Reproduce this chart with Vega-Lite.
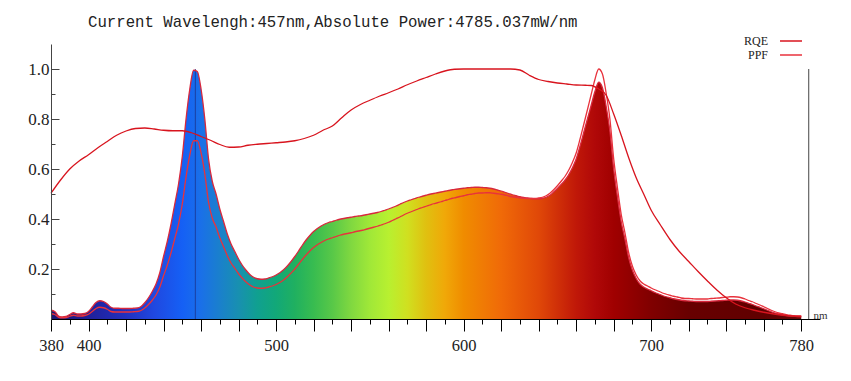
{
"$schema":"https://vega.github.io/schema/vega-lite/v6.json",
"width":769,"height":275,
"autosize":{"type":"none"},
"padding":{"left":51,"top":44,"right":31,"bottom":62},
"background":"white",
"title":{"text":"Current Wavelengh:457nm,Absolute Power:4785.037mW/nm","anchor":"start","frame":"group","dx":37,"dy":27,"offset":17,"baseline":"alphabetic","font":"Liberation Mono","fontSize":15.7,"fontWeight":"normal","color":"#222222"},
"config":{"view":{"stroke":null},"axis":{"grid":false}},
"datasets":{
"spec":[
{"w":380,"s":0.035,"p":0.021},{"w":382,"s":0.03,"p":0.018},{"w":384,"s":0.012,"p":0.007},{"w":386,"s":0.008,"p":0.005},{"w":388,"s":0.01,"p":0.006},{"w":390,"s":0.018,"p":0.011},{"w":392,"s":0.025,"p":0.015},{"w":394,"s":0.02,"p":0.012},{"w":396,"s":0.02,"p":0.012},{"w":398,"s":0.022,"p":0.014},
{"w":400,"s":0.03,"p":0.019},{"w":402,"s":0.048,"p":0.03},{"w":404,"s":0.066,"p":0.042},{"w":406,"s":0.073,"p":0.047},{"w":408,"s":0.07,"p":0.045},{"w":410,"s":0.06,"p":0.039},{"w":412,"s":0.047,"p":0.03},{"w":414,"s":0.043,"p":0.028},{"w":416,"s":0.043,"p":0.028},{"w":418,"s":0.042,"p":0.028},
{"w":420,"s":0.042,"p":0.028},{"w":422,"s":0.042,"p":0.028},{"w":424,"s":0.043,"p":0.029},{"w":426,"s":0.044,"p":0.03},{"w":428,"s":0.05,"p":0.034},{"w":430,"s":0.065,"p":0.044},{"w":432,"s":0.085,"p":0.058},{"w":434,"s":0.11,"p":0.075},{"w":436,"s":0.14,"p":0.096},{"w":438,"s":0.185,"p":0.127},
{"w":440,"s":0.25,"p":0.173},{"w":442,"s":0.31,"p":0.215},{"w":444,"s":0.38,"p":0.265},{"w":446,"s":0.46,"p":0.322},{"w":448,"s":0.54,"p":0.38},{"w":450,"s":0.65,"p":0.46},{"w":452,"s":0.8,"p":0.568},{"w":454,"s":0.92,"p":0.656},{"w":456,"s":0.995,"p":0.713},{"w":458,"s":0.99,"p":0.713},
{"w":460,"s":0.92,"p":0.665},{"w":462,"s":0.8,"p":0.581},{"w":464,"s":0.64,"p":0.467},{"w":466,"s":0.55,"p":0.403},{"w":468,"s":0.5,"p":0.368},{"w":470,"s":0.44,"p":0.325},{"w":472,"s":0.39,"p":0.289},{"w":474,"s":0.34,"p":0.253},{"w":476,"s":0.3,"p":0.224},{"w":478,"s":0.27,"p":0.203},
{"w":480,"s":0.24,"p":0.181},{"w":482,"s":0.215,"p":0.163},{"w":484,"s":0.195,"p":0.148},{"w":486,"s":0.178,"p":0.136},{"w":488,"s":0.167,"p":0.128},{"w":490,"s":0.161,"p":0.124},{"w":492,"s":0.159,"p":0.123},{"w":494,"s":0.16,"p":0.124},{"w":496,"s":0.164,"p":0.128},{"w":498,"s":0.169,"p":0.132},
{"w":500,"s":0.176,"p":0.138},{"w":502,"s":0.185,"p":0.146},{"w":504,"s":0.197,"p":0.156},{"w":506,"s":0.212,"p":0.169},{"w":508,"s":0.23,"p":0.184},{"w":510,"s":0.25,"p":0.2},{"w":512,"s":0.272,"p":0.219},{"w":514,"s":0.295,"p":0.238},{"w":516,"s":0.316,"p":0.256},{"w":518,"s":0.334,"p":0.272},
{"w":520,"s":0.35,"p":0.286},{"w":522,"s":0.362,"p":0.297},{"w":524,"s":0.372,"p":0.306},{"w":526,"s":0.38,"p":0.314},{"w":528,"s":0.386,"p":0.32},{"w":530,"s":0.39,"p":0.325},{"w":532,"s":0.395,"p":0.33},{"w":534,"s":0.399,"p":0.335},{"w":536,"s":0.402,"p":0.339},{"w":538,"s":0.405,"p":0.342},
{"w":540,"s":0.407,"p":0.345},{"w":542,"s":0.41,"p":0.349},{"w":544,"s":0.412,"p":0.352},{"w":546,"s":0.414,"p":0.355},{"w":548,"s":0.417,"p":0.359},{"w":550,"s":0.42,"p":0.363},{"w":552,"s":0.423,"p":0.367},{"w":554,"s":0.426,"p":0.371},{"w":556,"s":0.43,"p":0.376},{"w":558,"s":0.435,"p":0.381},
{"w":560,"s":0.44,"p":0.387},{"w":562,"s":0.446,"p":0.394},{"w":564,"s":0.452,"p":0.401},{"w":566,"s":0.459,"p":0.408},{"w":568,"s":0.466,"p":0.416},{"w":570,"s":0.472,"p":0.423},{"w":572,"s":0.477,"p":0.429},{"w":574,"s":0.482,"p":0.435},{"w":576,"s":0.487,"p":0.441},{"w":578,"s":0.491,"p":0.446},
{"w":580,"s":0.495,"p":0.451},{"w":582,"s":0.499,"p":0.456},{"w":584,"s":0.502,"p":0.461},{"w":586,"s":0.505,"p":0.465},{"w":588,"s":0.508,"p":0.469},{"w":590,"s":0.511,"p":0.474},{"w":592,"s":0.514,"p":0.478},{"w":594,"s":0.517,"p":0.483},{"w":596,"s":0.519,"p":0.486},{"w":598,"s":0.521,"p":0.49},
{"w":600,"s":0.523,"p":0.493},{"w":602,"s":0.525,"p":0.497},{"w":604,"s":0.526,"p":0.499},{"w":606,"s":0.527,"p":0.502},{"w":608,"s":0.527,"p":0.504},{"w":610,"s":0.526,"p":0.504},{"w":612,"s":0.525,"p":0.505},{"w":614,"s":0.523,"p":0.505},{"w":616,"s":0.52,"p":0.503},{"w":618,"s":0.516,"p":0.501},
{"w":620,"s":0.512,"p":0.499},{"w":622,"s":0.507,"p":0.496},{"w":624,"s":0.502,"p":0.492},{"w":626,"s":0.497,"p":0.489},{"w":628,"s":0.493,"p":0.487},{"w":630,"s":0.489,"p":0.484},{"w":632,"s":0.486,"p":0.483},{"w":634,"s":0.484,"p":0.482},{"w":636,"s":0.482,"p":0.482},{"w":638,"s":0.481,"p":0.482},
{"w":640,"s":0.481,"p":0.484},{"w":642,"s":0.483,"p":0.487},{"w":644,"s":0.487,"p":0.493},{"w":646,"s":0.495,"p":0.503},{"w":648,"s":0.508,"p":0.517},{"w":650,"s":0.522,"p":0.533},{"w":652,"s":0.538,"p":0.551},{"w":654,"s":0.555,"p":0.57},{"w":656,"s":0.577,"p":0.595},{"w":658,"s":0.605,"p":0.626},
{"w":660,"s":0.64,"p":0.664},{"w":662,"s":0.69,"p":0.718},{"w":664,"s":0.745,"p":0.777},{"w":666,"s":0.8,"p":0.837},{"w":668,"s":0.855,"p":0.898},{"w":670,"s":0.91,"p":0.958},{"w":672,"s":0.947,"p":1.0},{"w":674,"s":0.925,"p":0.98},{"w":676,"s":0.85,"p":0.903},{"w":678,"s":0.75,"p":0.799},
{"w":680,"s":0.6,"p":0.641},{"w":682,"s":0.49,"p":0.525},{"w":684,"s":0.39,"p":0.419},{"w":686,"s":0.32,"p":0.345},{"w":688,"s":0.245,"p":0.265},{"w":690,"s":0.195,"p":0.211},{"w":692,"s":0.162,"p":0.176},{"w":694,"s":0.14,"p":0.153},{"w":696,"s":0.128,"p":0.14},{"w":698,"s":0.12,"p":0.132},
{"w":700,"s":0.113,"p":0.124},{"w":702,"s":0.106,"p":0.117},{"w":704,"s":0.1,"p":0.111},{"w":706,"s":0.094,"p":0.104},{"w":708,"s":0.089,"p":0.099},{"w":710,"s":0.085,"p":0.095},{"w":712,"s":0.081,"p":0.091},{"w":714,"s":0.078,"p":0.088},{"w":716,"s":0.075,"p":0.084},{"w":718,"s":0.073,"p":0.082},
{"w":720,"s":0.072,"p":0.082},{"w":722,"s":0.071,"p":0.081},{"w":724,"s":0.07,"p":0.08},{"w":726,"s":0.07,"p":0.08},{"w":728,"s":0.07,"p":0.08},{"w":730,"s":0.07,"p":0.08},{"w":732,"s":0.071,"p":0.082},{"w":734,"s":0.072,"p":0.083},{"w":736,"s":0.073,"p":0.084},{"w":738,"s":0.074,"p":0.086},
{"w":740,"s":0.075,"p":0.087},{"w":742,"s":0.076,"p":0.089},{"w":744,"s":0.076,"p":0.089},{"w":746,"s":0.075,"p":0.088},{"w":748,"s":0.072,"p":0.085},{"w":750,"s":0.068,"p":0.08},{"w":752,"s":0.063,"p":0.074},{"w":754,"s":0.058,"p":0.069},{"w":756,"s":0.052,"p":0.062},{"w":758,"s":0.047,"p":0.056},
{"w":760,"s":0.041,"p":0.049},{"w":762,"s":0.035,"p":0.042},{"w":764,"s":0.029,"p":0.035},{"w":766,"s":0.024,"p":0.029},{"w":768,"s":0.02,"p":0.024},{"w":770,"s":0.017,"p":0.021},{"w":772,"s":0.014,"p":0.017},{"w":774,"s":0.012,"p":0.015},{"w":776,"s":0.011,"p":0.013},{"w":778,"s":0.01,"p":0.012},{"w":780,"s":0.01,"p":0.012}
],
"rqe":[
{"w":380,"r":0.503},{"w":385,"r":0.555},{"w":390,"r":0.6},{"w":395,"r":0.632},{"w":400,"r":0.657},{"w":405,"r":0.685},{"w":410,"r":0.71},{"w":415,"r":0.735},{"w":420,"r":0.752},{"w":425,"r":0.762},{"w":430,"r":0.764},{"w":435,"r":0.76},{"w":440,"r":0.755},{"w":445,"r":0.753},{"w":450,"r":0.753},{"w":455,"r":0.745},{"w":460,"r":0.73},{"w":465,"r":0.715},{"w":470,"r":0.698},{"w":475,"r":0.687},{"w":480,"r":0.688},{"w":485,"r":0.695},{"w":490,"r":0.699},{"w":495,"r":0.702},{"w":500,"r":0.705},{"w":505,"r":0.708},{"w":510,"r":0.713},{"w":515,"r":0.722},{"w":520,"r":0.735},{"w":525,"r":0.755},{"w":530,"r":0.772},{"w":535,"r":0.805},{"w":540,"r":0.836},{"w":545,"r":0.858},{"w":550,"r":0.875},{"w":555,"r":0.891},{"w":560,"r":0.905},{"w":565,"r":0.92},{"w":570,"r":0.937},{"w":575,"r":0.952},{"w":580,"r":0.966},{"w":585,"r":0.98},{"w":590,"r":0.992},{"w":595,"r":0.999},{"w":600,"r":1.0},{"w":610,"r":1.0},{"w":620,"r":1.0},{"w":625,"r":1.0},{"w":630,"r":0.996},{"w":635,"r":0.975},{"w":640,"r":0.958},{"w":645,"r":0.95},{"w":650,"r":0.944},{"w":655,"r":0.94},{"w":660,"r":0.936},{"w":665,"r":0.935},{"w":668,"r":0.934},{"w":672,"r":0.92},{"w":676,"r":0.895},{"w":680,"r":0.82},{"w":684,"r":0.735},{"w":688,"r":0.645},{"w":692,"r":0.565},{"w":696,"r":0.5},{"w":700,"r":0.435},{"w":705,"r":0.375},{"w":710,"r":0.318},{"w":715,"r":0.27},{"w":720,"r":0.23},{"w":725,"r":0.19},{"w":730,"r":0.152},{"w":735,"r":0.116},{"w":740,"r":0.085},{"w":745,"r":0.06},{"w":750,"r":0.045},{"w":755,"r":0.035},{"w":760,"r":0.027},{"w":770,"r":0.015},{"w":780,"r":0.01}
],
"marker":[{"w":457,"s":1.0}],
"edge":[{"w":784,"s":1.0}]
},
"encoding":{
"x":{"field":"w","type":"quantitative","title":"nm","scale":{"domain":[380,790],"nice":false,"zero":false},
"axis":{"values":[380,390,400,410,420,430,440,450,460,470,480,490,500,510,520,530,540,550,560,570,580,590,600,610,620,630,640,650,660,670,680,690,700,710,720,730,740,750,760,770,780],
"tickSize":{"condition":{"test":"datum.value % 20 === 0","value":12},"value":5},
"labelExpr":"(datum.value === 380 || datum.value % 100 === 0 || datum.value === 780) ? datum.label : ''",
"labelFont":"Liberation Serif","labelFontSize":16.5,"labelColor":"#222222","labelPadding":6,"labelOverlap":false,"labelFlush":false,
"domainColor":"#000000","tickColor":"#000000","tickWidth":1,"domainWidth":1,"zindex":1,
"titleFont":"Liberation Serif","titleFontSize":11,"titleFontWeight":"normal","titleColor":"#333333","titleX":762,"titleY":-1,"titleAlign":"left","titleBaseline":"alphabetic","titleAnchor":null}},
"y":{"type":"quantitative","title":null,"scale":{"domain":[0,1.1],"nice":false},
"axis":{"values":[0.1,0.2,0.3,0.4,0.5,0.6,0.7,0.8,0.9,1.0],
"tickSize":{"condition":{"test":"round(datum.value*10) % 2 === 0","value":-8},"value":-4},
"labelExpr":"round(datum.value*10) % 2 === 0 ? format(datum.value, '.1f') : ''",
"labelFont":"Liberation Serif","labelFontSize":17,"labelColor":"#222222","labelPadding":10,"labelFlush":false,"labelOverlap":false,
"domainColor":"#444444","tickColor":"#444444","zindex":1}}
},
"layer":[
{"data":{"name":"spec"},"mark":{"type":"area","interpolate":"monotone",
"color":{"gradient":"linear","x1":0,"y1":0,"x2":1,"y2":0,"stops":[
{"offset":0,"color":"#1c1870"},{"offset":0.05,"color":"#20209a"},{"offset":0.1,"color":"#2030c0"},{"offset":0.1375,"color":"#2048e0"},{"offset":0.175,"color":"#1560f5"},{"offset":0.2,"color":"#1a70e8"},{"offset":0.225,"color":"#1a80cc"},{"offset":0.25,"color":"#1890b0"},{"offset":0.275,"color":"#10a090"},{"offset":0.3,"color":"#12a878"},{"offset":0.325,"color":"#20b060"},{"offset":0.35,"color":"#38bc50"},{"offset":0.375,"color":"#58c848"},{"offset":0.4,"color":"#80d840"},{"offset":0.425,"color":"#a0e838"},{"offset":0.45,"color":"#b8f030"},{"offset":0.475,"color":"#d0e020"},{"offset":0.5,"color":"#e0c010"},{"offset":0.525,"color":"#f0a808"},{"offset":0.55,"color":"#f08c00"},{"offset":0.6,"color":"#f06a08"},{"offset":0.65,"color":"#e04808"},{"offset":0.675,"color":"#d03008"},{"offset":0.7,"color":"#c01808"},{"offset":0.725,"color":"#b00808"},{"offset":0.75,"color":"#a00000"},{"offset":0.8,"color":"#800000"},{"offset":0.85,"color":"#680000"},{"offset":0.95,"color":"#600000"},{"offset":1,"color":"#6a0808"}]}},
"encoding":{"y":{"field":"s"}}},
{"data":{"name":"marker"},"mark":{"type":"rule","color":"#1a3a9a","strokeWidth":1.2,"opacity":0.75},
"encoding":{"y":{"field":"s"},"y2":{"datum":0}}},
{"data":{"name":"spec"},"mark":{"type":"line","color":"#d8283c","strokeWidth":1.3,"interpolate":"monotone"},
"encoding":{"y":{"field":"s"}}},
{"data":{"name":"spec"},"mark":{"type":"line","strokeWidth":1.3,"interpolate":"monotone"},
"encoding":{"y":{"field":"p"},
"stroke":{"datum":"PPF","scale":{"domain":["RQE","PPF"],"range":["#d8141e","#e8323c"]},
"legend":{"orient":"none","legendX":732,"legendY":-11,"title":null,"symbolType":"M-1.57,0H1.57","symbolSize":196,"symbolStrokeWidth":1.5,"labelAlign":"right","labelOffset":-31,"labelFont":"Liberation Serif","labelFontSize":12,"labelColor":"#222222","rowPadding":0,"padding":0}}}},
{"data":{"name":"rqe"},"mark":{"type":"line","strokeWidth":1.3,"interpolate":"monotone"},
"encoding":{"y":{"field":"r"},"stroke":{"datum":"RQE"}}},
{"data":{"name":"edge"},"mark":{"type":"rule","color":"#444444","strokeWidth":1},
"encoding":{"y":{"field":"s"},"y2":{"datum":0}}}
]
}
